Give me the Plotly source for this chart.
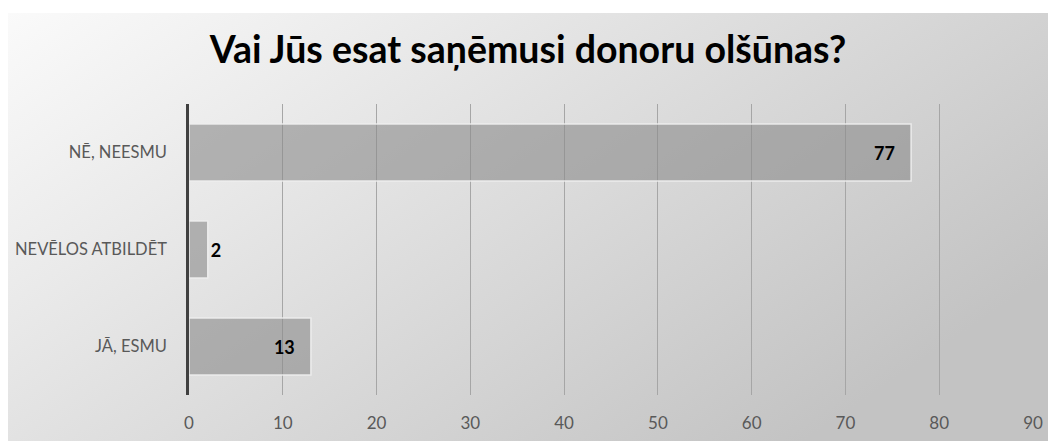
import base64
import plotly.graph_objects as go

# Data (bottom to top as drawn)
categories = ["JĀ, ESMU", "NEVĒLOS ATBILDĒT", "NĒ, NEESMU"]
values = [13, 2, 77]
x_ticks = [0, 10, 20, 30, 40, 50, 60, 70, 80, 90]
title_text = "Vai Jūs esat saņēmusi donoru olšūnas?"

OFF = 8  # page body margin
W, H = 1056 - OFF, 441 - OFF
L, R, T, B = 189 - OFF, 1033 - OFF, 104 - OFF, 395 - OFF  # plot area (figure px)

svg = ('<svg xmlns="http://www.w3.org/2000/svg" width="100" height="100" viewBox="0 0 100 100" '
       'preserveAspectRatio="none"><defs><linearGradient id="g" x1="0" y1="0" x2="1" y2="0.6">'
       '<stop offset="0" stop-color="#fafafa"/><stop offset="0.3" stop-color="#eaeaea"/>'
       '<stop offset="1" stop-color="#c3c3c3"/></linearGradient></defs>'
       '<rect x="0" y="0" width="100" height="100" fill="url(#g)"/></svg>')
src = "data:image/svg+xml;base64," + base64.b64encode(svg.encode()).decode()

pw, ph = R - L, B - T
bg_x0 = (0 - L) / pw
bg_w = W / pw
bg_top = (B - 5) / ph
bg_h = (H - 5) / ph

pad = "\u00a0" * 3
fig = go.Figure(go.Bar(
    x=values, y=categories, orientation="h",
    text=[f"{v}{pad}" for v in values],
    textposition="auto", insidetextanchor="end",
    textfont=dict(family="Lato", size=18, color="#000000", weight="bold"),
    outsidetextfont=dict(family="Lato", size=18, color="#000000", weight="bold"),
    marker=dict(color="rgba(140,140,140,0.62)", line=dict(color="rgba(240,240,240,0.9)", width=1.5)),
    width=0.59, cliponaxis=False,
))

fig.update_layout(
    width=W, height=H,
    margin=dict(l=L, r=W - R, t=T, b=H - B, autoexpand=False),
    paper_bgcolor="white", plot_bgcolor="rgba(0,0,0,0)",
    showlegend=False,
    title=dict(text=title_text, x=((1056 / 2 - OFF) - L) / pw, xref="paper",
               y=1 - (50 - OFF) / H, yref="container",
               xanchor="center", yanchor="middle",
               font=dict(family="Lato", size=37.5, color="#000000", weight="bold")),
    images=[dict(source=src, xref="paper", yref="paper", x=bg_x0, y=bg_top,
                 sizex=bg_w, sizey=bg_h, sizing="stretch", layer="below",
                 xanchor="left", yanchor="top")],
    xaxis=dict(range=[0, 90], tickvals=x_ticks, showgrid=True, gridcolor="#a6a6a6", gridwidth=1,
               zeroline=False, showline=False, ticks="outside", ticklen=13,
               tickcolor="rgba(0,0,0,0)",
               tickfont=dict(family="Lato", size=17, color="#595959")),
    yaxis=dict(showgrid=False, zeroline=False, showline=True, linecolor="#404040", linewidth=2.5,
               ticks="outside", ticklen=16, tickcolor="rgba(0,0,0,0)",
               tickfont=dict(family="Lato", size=16.5, color="#595959")),
)

fig.write_html("out.html")
